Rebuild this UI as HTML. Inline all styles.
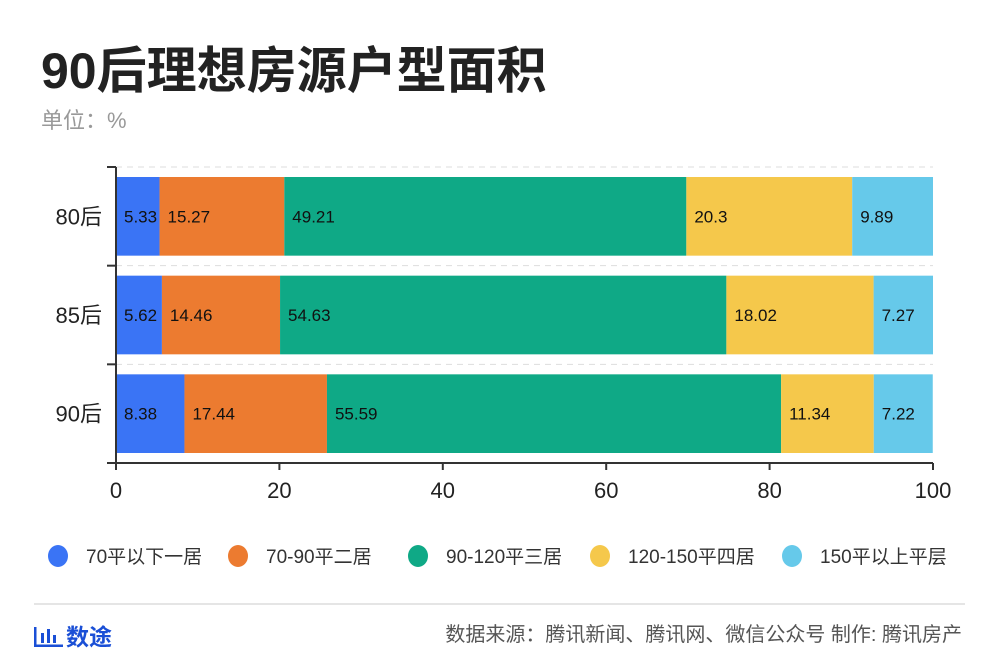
<!DOCTYPE html>
<html><head><meta charset="utf-8">
<style>
body{margin:0;background:#fff;width:1000px;height:667px;overflow:hidden;font-family:"Liberation Sans","Noto Sans CJK SC",sans-serif;}
</style></head>
<body>
<svg width="1000" height="667" xmlns="http://www.w3.org/2000/svg" style="font-family:'Liberation Sans','Noto Sans CJK SC',sans-serif">
<text x="41" y="88" font-size="50" font-weight="bold" fill="#222">90后理想房源户型面积</text>
<text x="41" y="128" font-size="22" fill="#999">单位：%</text>
<g id="plot"></g>
<g id="legend"></g>
<line x1="34" y1="604" x2="965" y2="604" stroke="#e5e5e5" stroke-width="2"/>
<g>
<rect x="34" y="627" width="2.5" height="20" fill="#1a4fd6"/><rect x="34" y="644.5" width="29" height="2.5" fill="#1a4fd6"/>
<rect x="41" y="633" width="3" height="10" fill="#1a4fd6"/><rect x="47" y="629" width="3" height="14" fill="#1a4fd6"/><rect x="53" y="635" width="3" height="8" fill="#1a4fd6"/>
<text x="66" y="645" font-size="23" font-weight="bold" fill="#1a4fd6">数途</text>
</g>
<text x="962" y="641" font-size="20" fill="#555" text-anchor="end">数据来源：腾讯新闻、腾讯网、微信公众号  制作: 腾讯房产</text>
</svg>
<script>
const categories=["80后","85后","90后"];
const seriesNames=["70平以下一居","70-90平二居","90-120平三居","120-150平四居","150平以上平层"];
const s1=[5.33,5.62,8.38];
const s2=[15.27,14.46,17.44];
const s3=[49.21,54.63,55.59];
const s4=[20.3,18.02,11.34];
const s5=[9.89,7.27,7.22];
const xTicks=[0,20,40,60,80,100];
const colors=["#3a74f5","#ec7b30","#0fa986","#f5c84b","#66c9ea"];
const series=[s1,s2,s3,s4,s5];
const NS="http://www.w3.org/2000/svg";
const x0=116,x1=933,yTop=167,yBot=463;
const xs=v=>x0+(x1-x0)*v/100;
const band=(yBot-yTop)/categories.length;
const plot=document.getElementById('plot');
function mk(tag,attrs,parent){const e=document.createElementNS(NS,tag);for(const k in attrs)e.setAttribute(k,attrs[k]);(parent||plot).appendChild(e);return e;}
categories.forEach((c,i)=>{
  const by=yTop+band*i;
  const g=mk('line',{x1:x0,x2:x1,y1:by,y2:by,stroke:'#ddd','stroke-dasharray':'6,5'});
  
  
  let acc=0;
  series.forEach((s,j)=>{
    const v=s[i];
    const r=mk('rect',{x:xs(acc),y:by+10,width:xs(acc+v)-xs(acc),height:band-20,fill:colors[j]});
    
    
    const t=mk('text',{x:xs(acc)+8,y:by+band/2+6,'font-size':17,fill:'#111'});
    t.textContent=String(v);
    
    
    acc+=v;
  });
  const l=mk('text',{x:102,y:by+band/2+8,'font-size':22,fill:'#222','text-anchor':'end'});
  l.textContent=c;
  
  
});
for(let i=0;i<=categories.length;i++){
  const y=yTop+band*i;
  const t=mk('line',{x1:107,x2:x0,y1:y,y2:y,stroke:'#333','stroke-width':2});
  
  
}
const ya=mk('line',{x1:x0,x2:x0,y1:yTop,y2:yBot+7,stroke:'#333','stroke-width':2});


const xa=mk('line',{x1:107,x2:x1,y1:yBot,y2:yBot,stroke:'#333','stroke-width':2});


xTicks.forEach(v=>{
  const tk=mk('line',{x1:xs(v),x2:xs(v),y1:yBot,y2:yBot+7,stroke:'#333','stroke-width':2});
  
  
  const t=mk('text',{x:xs(v),y:498,'font-size':22,fill:'#222','text-anchor':'middle'});
  t.textContent=v;
  
  
});
const leg=document.getElementById('legend');
const legX=[58,238,418,600,792];
seriesNames.forEach((n,j)=>{
  const g=mk('g',{},leg);
  
  
  mk('ellipse',{cx:legX[j],cy:556,rx:10,ry:11,fill:colors[j]},g);
  const t=mk('text',{x:legX[j]+28,y:563,'font-size':19,fill:'#333'},g);
  t.textContent=n;
});
</script>
</body></html>
